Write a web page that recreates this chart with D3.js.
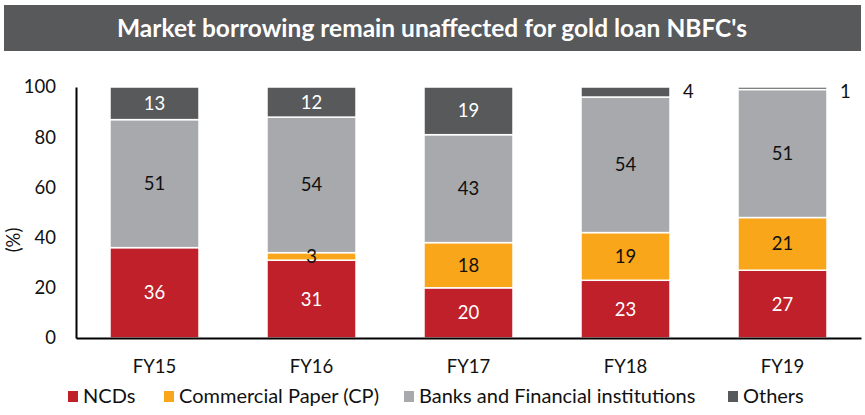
<!DOCTYPE html>
<html>
<head>
<meta charset="utf-8">
<script src="https://cdn.jsdelivr.net/npm/d3@7"></script>
<style>
  body { margin: 0; background: #fff; }
  svg text { font-family: "Liberation Sans Narrow", Lato, "Open Sans", sans-serif; }
</style>
</head>
<body>
<svg id="chart" width="865" height="415"></svg>
<script>
// Funding mix of gold loan NBFCs (% share)
const years = ["FY15", "FY16", "FY17", "FY18", "FY19"];
const ncds = [36, 31, 20, 23, 27];
const commercialPaper = [0, 3, 18, 19, 21];
const banksFI = [51, 54, 43, 54, 51];
const others = [13, 12, 19, 4, 1];
const yTicks = [0, 20, 40, 60, 80, 100];

const seriesNames = ["NCDs", "Commercial Paper (CP)", "Banks and Financial institutions", "Others"];
const seriesValues = [ncds, commercialPaper, banksFI, others];
const colors = ["#C0202A", "#F9A61A", "#A7A9AC", "#58595B"];
const labelColors = ["#fff", "#111", "#111", "#fff"];

const svg = d3.select("#chart");

// Title bar
svg.append("rect").attr("x", 4).attr("y", 5).attr("width", 857).attr("height", 46).attr("fill", "#58595B");
svg.append("text").attr("x", 432).attr("y", 37).attr("text-anchor", "middle")
  .attr("fill", "#fff").attr("font-size", 24.5).attr("font-weight", "bold")
  .text("Market borrowing remain unaffected for gold loan NBFC's");

const x = d3.scaleBand().domain(years).range([76, 861]).paddingInner(0.433).paddingOuter(0.2165);
const y = d3.scaleLinear().domain([0, 100]).range([338, 87]);

// Stack the series
const rows = years.map((yr, i) => {
  const r = { year: yr };
  seriesNames.forEach((s, j) => r[s] = seriesValues[j][i]);
  return r;
});
const stacked = d3.stack().keys(seriesNames)(rows);

const g = svg.append("g");
stacked.forEach((layer, j) => {
  g.selectAll(null).data(layer.filter(d => d[1] - d[0] > 0)).enter().append("rect")
    .attr("x", d => x(d.data.year))
    .attr("width", x.bandwidth())
    .attr("y", d => y(d[1]))
    .attr("height", d => y(d[0]) - y(d[1]))
    .attr("fill", colors[j])
    .attr("stroke", "#fff").attr("stroke-width", 1.5);
});

// Value labels
stacked.forEach((layer, j) => {
  layer.forEach(d => {
    const v = d[1] - d[0];
    if (v <= 0) return;
    const small = v < 8 && j === 3;
    svg.append("text")
      .attr("x", small ? x(d.data.year) + x.bandwidth() + 13 : x(d.data.year) + x.bandwidth() / 2)
      .attr("y", small ? y(d[1]) + 5 : y((d[0] + d[1]) / 2))
      .attr("dy", "0.35em")
      .attr("text-anchor", small ? "start" : "middle")
      .attr("font-size", 18.5)
      .attr("fill", small ? "#111" : labelColors[j])
      .text(v);
  });
});

// Axes
const yAxis = svg.append("g").attr("transform", "translate(76,0)")
  .call(d3.axisLeft(y).tickValues(yTicks).tickSize(0).tickPadding(20));
yAxis.select(".domain").attr("stroke", "#000").attr("stroke-width", 2);
yAxis.selectAll("text").attr("font-size", 18.5).attr("fill", "#111")
  .style("font-family", "'Liberation Sans Narrow', Lato, sans-serif");

const xAxis = svg.append("g").attr("transform", "translate(0,338)")
  .call(d3.axisBottom(x).tickSize(0).tickPadding(22));
xAxis.select(".domain").attr("stroke", "#000").attr("stroke-width", 2);
xAxis.selectAll("text").attr("font-size", 18.5).attr("fill", "#111")
  .style("font-family", "'Liberation Sans Narrow', Lato, sans-serif");

svg.append("text").attr("transform", "translate(20,240) rotate(-90)")
  .attr("text-anchor", "middle").attr("font-size", 18.5).attr("fill", "#111").text("(%)");

// Legend
const legendX = [68, 164, 404, 728];
seriesNames.forEach((s, j) => {
  svg.append("rect").attr("x", legendX[j]).attr("y", 391).attr("width", 10).attr("height", 11).attr("fill", colors[j]);
  svg.append("text").attr("x", legendX[j] + 15).attr("y", 403).attr("font-size", 20).attr("fill", "#111").text(s);
});
</script>
</body>
</html>
